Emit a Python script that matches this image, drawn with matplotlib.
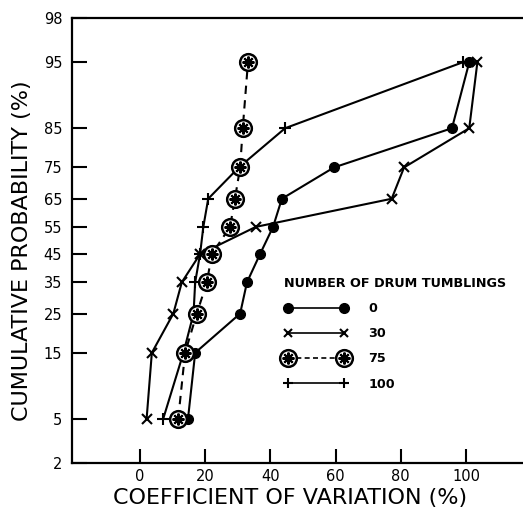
import math
import numpy as np
import matplotlib
matplotlib.use("Agg")
import matplotlib.pyplot as plt
from matplotlib.lines import Line2D
from matplotlib.legend_handler import HandlerTuple
from matplotlib.ticker import FixedLocator, FixedFormatter

# ---------------- data ----------------
prob_levels = [5, 15, 25, 35, 45, 55, 65, 75, 85, 95]
cv_0 = [14.7, 16.9, 30.7, 32.8, 36.8, 40.8, 43.5, 59.5, 95.7, 101.0]
cv_30 = [2.0, 3.6, 10.2, 12.8, 18.4, 35.5, 77.2, 81.0, 101.0, 103.5]
cv_75 = [11.7, 13.8, 17.4, 20.5, 22.0, 27.6, 29.1, 30.7, 31.5, 33.1]
cv_100 = [7.1, 13.3, 16.4, 16.9, 18.4, 19.4, 20.9, 30.3, 44.5, 99.0]
series_labels = ["0", "30", "75", "100"]
y_ticks = [2, 5, 15, 25, 35, 45, 55, 65, 75, 85, 95, 98]
x_ticks = [0, 20, 40, 60, 80, 100]

plt.rcParams["font.family"] = ["DejaVu Sans"]

# ---------------- normal probability scale ----------------
_a = [-3.969683028665376e+01, 2.209460984245205e+02, -2.759285104469687e+02,
      1.383577518672690e+02, -3.066479806614716e+01, 2.506628277459239e+00]
_b = [-5.447609879822406e+01, 1.615858368580409e+02, -1.556989798598866e+02,
      6.680131188771972e+01, -1.328068155288572e+01]
_c = [-7.784894002430293e-03, -3.223964580411365e-01, -2.400758277161838e+00,
      -2.549671010229528e+00, 4.374664141464968e+00, 2.938163982698783e+00]
_d = [7.784695709041462e-03, 3.224671290700398e-01, 2.445134137142996e+00,
      3.754408661907416e+00]


def _ppf(p):
    p = np.clip(np.asarray(p, dtype=float), 1e-12, 1 - 1e-12)
    out = np.empty_like(p)
    plow = 0.02425
    phigh = 1 - plow
    lo = p < plow
    hi = p > phigh
    mid = ~(lo | hi)
    if np.any(lo):
        q = np.sqrt(-2 * np.log(p[lo]))
        out[lo] = (((((_c[0]*q+_c[1])*q+_c[2])*q+_c[3])*q+_c[4])*q+_c[5]) / \
                  ((((_d[0]*q+_d[1])*q+_d[2])*q+_d[3])*q+1)
    if np.any(hi):
        q = np.sqrt(-2 * np.log(1 - p[hi]))
        out[hi] = -(((((_c[0]*q+_c[1])*q+_c[2])*q+_c[3])*q+_c[4])*q+_c[5]) / \
                  ((((_d[0]*q+_d[1])*q+_d[2])*q+_d[3])*q+1)
    if np.any(mid):
        q = p[mid] - 0.5
        r = q * q
        out[mid] = (((((_a[0]*r+_a[1])*r+_a[2])*r+_a[3])*r+_a[4])*r+_a[5])*q / \
                   (((((_b[0]*r+_b[1])*r+_b[2])*r+_b[3])*r+_b[4])*r+1)
    return out


_erf = np.vectorize(math.erf)


def forward(pct):
    return _ppf(np.asarray(pct, dtype=float) / 100.0)


def inverse(z):
    z = np.asarray(z, dtype=float)
    return 100.0 * 0.5 * (1 + _erf(z / math.sqrt(2)))


# ---------------- figure ----------------
fig = plt.figure(figsize=(5.23, 5.09), dpi=100)
ax = fig.add_axes([72/523, 1 - 463/509, 1 - 72/523, (463 - 18)/509])
ax.set_yscale("function", functions=(forward, inverse))
ax.set_ylim(2, 98)
ax.set_xlim(-20.9, 117.5)

lw = 1.5
ax.plot(cv_0, prob_levels, color="k", lw=lw, marker="o", ms=7, zorder=3)
ax.plot(cv_30, prob_levels, color="k", lw=lw, marker="x", ms=7, mew=1.5, zorder=3)
ax.plot(cv_100, prob_levels, color="k", lw=lw, marker="+", ms=8, mew=1.5, zorder=3)
ax.plot(cv_75, prob_levels, color="k", lw=lw, ls=(0, (4, 3)), marker="o", ms=12,
        mfc="white", mec="k", mew=1.8, zorder=4)
ax.plot(cv_75, prob_levels, ls="none", marker=(8, 2, 0), ms=8.5, mew=1.5,
        color="k", zorder=5)

# axes styling
for s in ["left", "bottom", "top"]:
    ax.spines[s].set_linewidth(1.6)
ax.spines["right"].set_visible(False)

ax.yaxis.set_major_locator(FixedLocator(y_ticks))
ax.yaxis.set_major_formatter(FixedFormatter([str(t) for t in y_ticks]))
ax.yaxis.set_minor_locator(FixedLocator([]))
ax.set_xticks(x_ticks)
ax.tick_params(axis="y", direction="in", length=11, width=1.5, pad=7,
               labelsize=10.5)
ax.tick_params(axis="x", direction="in", length=10, width=1.5, pad=4,
               labelsize=10.5)

ax.set_ylabel("CUMULATIVE PROBABILITY (%)", fontsize=16, va="center")
ax.yaxis.set_label_coords(-0.111, 0.476)
ax.set_xlabel("COEFFICIENT OF VARIATION (%)", fontsize=16, va="center")
ax.xaxis.set_label_coords(0.483, -0.078)

# legend
h0 = Line2D([], [], color="k", lw=1.2, marker="o", ms=7)
h30 = Line2D([], [], color="k", lw=1.2, marker="x", ms=6, mew=1.5)
h75a = Line2D([], [], color="k", lw=1.2, ls=(0, (3, 2)), marker="o", ms=12,
              mfc="white", mec="k", mew=1.8)
h75b = Line2D([], [], ls="none", marker=(8, 2, 0), ms=8.5, mew=1.5, color="k")
h100 = Line2D([], [], color="k", lw=1.2, marker="+", ms=7, mew=1.5)
leg = ax.legend([h0, h30, (h75a, h75b), h100], series_labels,
                title="NUMBER OF DRUM TUMBLINGS",
                handler_map={tuple: HandlerTuple(ndivide=1)},
                frameon=False, numpoints=2, handlelength=5.0,
                handletextpad=1.6, labelspacing=0.95,
                loc="upper left", bbox_to_anchor=(284/523, 1 - 277/509),
                bbox_transform=fig.transFigure, borderpad=0, borderaxespad=0,
                alignment="left", prop={"size": 9.2, "weight": "bold"},
                title_fontproperties={"size": 9.2, "weight": "bold"})

fig.savefig("out.png", dpi=100)
